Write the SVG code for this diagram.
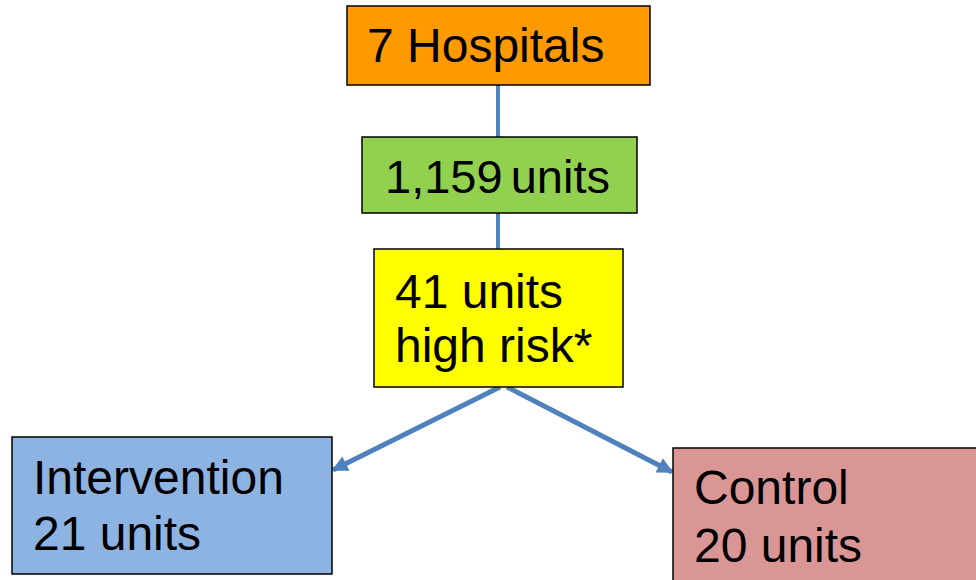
<svg xmlns="http://www.w3.org/2000/svg" width="976" height="580" viewBox="0 0 976 580">
<defs>
<marker id="ah" viewBox="0 0 10 10" refX="9" refY="5" markerWidth="3.4" markerHeight="3.2" orient="auto" markerUnits="strokeWidth">
<path d="M0,0 L10,5 L0,10 z" fill="#4F81BD"/>
</marker>
<style>
.box{stroke:#000;stroke-width:1.5}
.t{font-family:"Liberation Sans",Arial,sans-serif;font-size:48px;fill:#000}
.c{stroke:#4F81BD;stroke-width:4;fill:none}
.a{stroke:#4F81BD;stroke-width:5;fill:none}
</style>
</defs>
<rect width="976" height="580" fill="#fff"/>
<g id="connectors">
<line class="c" x1="498" y1="85" x2="498" y2="137"/>
<line class="c" x1="498" y1="213" x2="498" y2="249"/>
<line class="a" x1="500" y1="387" x2="333" y2="470" marker-end="url(#ah)"/>
<line class="a" x1="507" y1="387" x2="672" y2="472" marker-end="url(#ah)"/>
</g>
<g id="hospitals">
<rect class="box" x="347" y="6" width="303" height="79" fill="#FF9900"/>
<text class="t" x="367" y="62">7 Hospitals</text>
</g>
<g id="units">
<rect class="box" x="362" y="137" width="275" height="76" fill="#92D050"/>
<text class="t" x="385" y="193" style="font-size:47px;word-spacing:-5px">1,159 units</text>
</g>
<g id="highrisk">
<rect class="box" x="374" y="249" width="249" height="138" fill="#FFFF00"/>
<text class="t" x="395" y="308">41 units</text>
<text class="t" x="395" y="362">high risk*</text>
</g>
<g id="intervention">
<rect class="box" x="12" y="437" width="320" height="137" fill="#8DB3E2"/>
<text class="t" x="33" y="494">Intervention</text>
<text class="t" x="33" y="550">21 units</text>
</g>
<g id="control">
<rect class="box" x="673" y="448" width="320" height="150" fill="#D99694"/>
<text class="t" x="694" y="504">Control</text>
<text class="t" x="694" y="562">20 units</text>
</g>
</svg>
